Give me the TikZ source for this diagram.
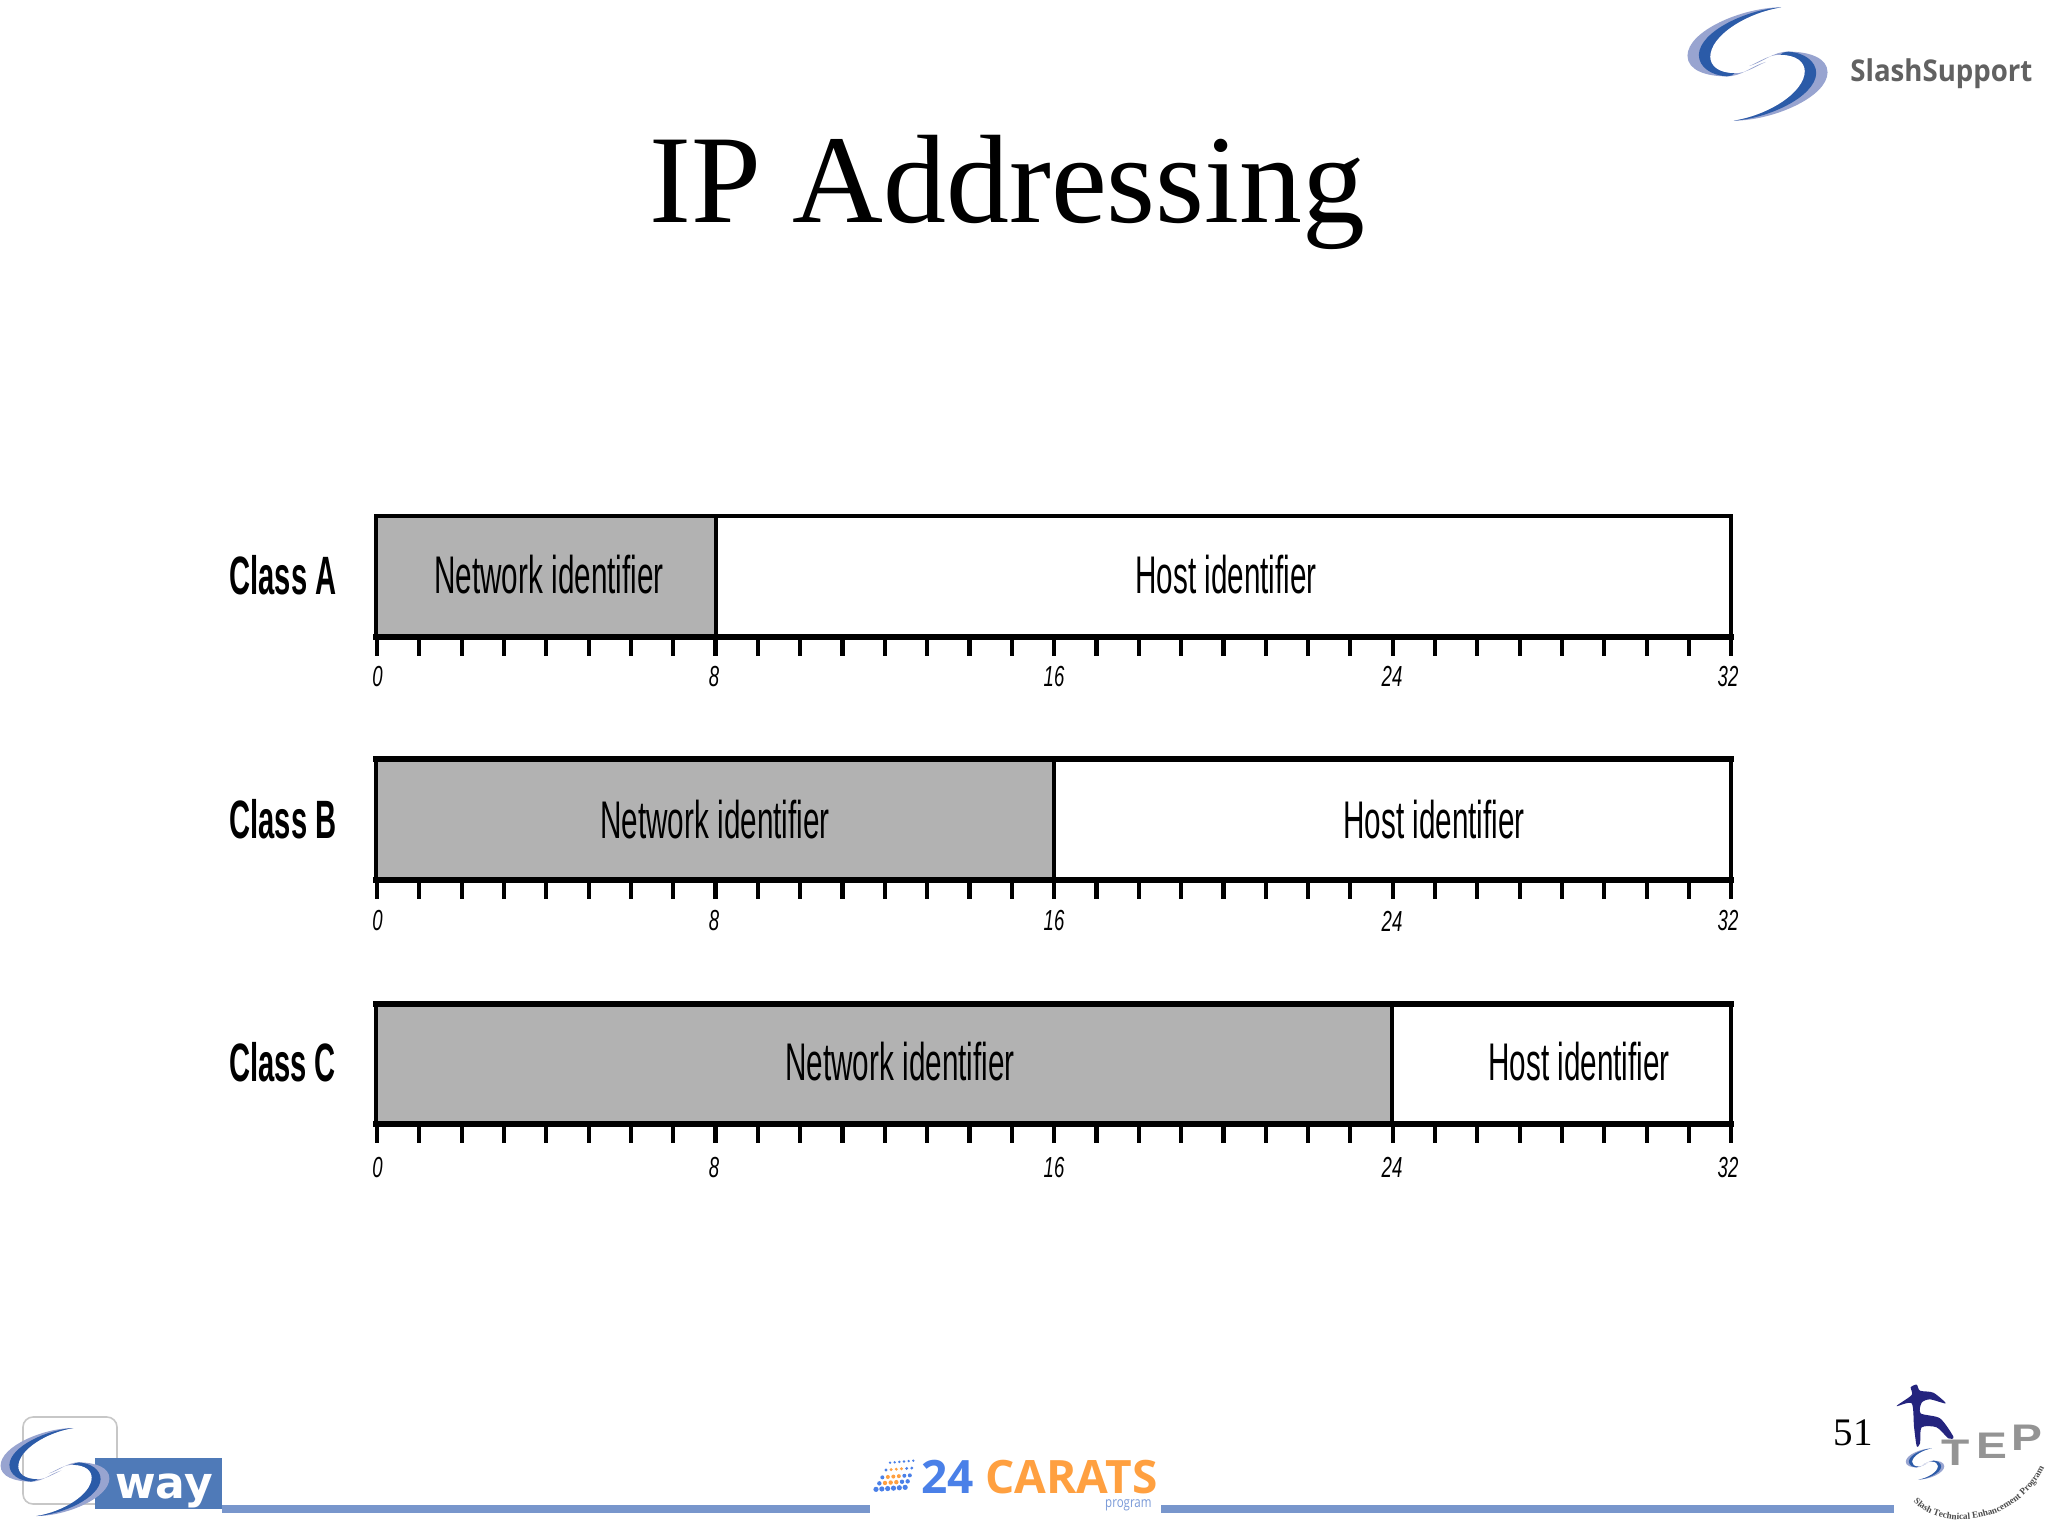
\documentclass[tikz,border=0pt]{standalone}
\usepackage{fontspec}
\usetikzlibrary{decorations.text}
\setmainfont{Liberation Serif}
\newfontfamily\narrowf[FakeStretch=0.56]{Liberation Sans}
\newfontfamily\narrowb[FakeStretch=0.54]{Liberation Sans Bold}
\newfontfamily\narrowi[FakeStretch=0.64]{Liberation Sans Italic}
\newfontfamily\wayf{DejaVu Sans Bold}
\newfontfamily\ssf[FakeStretch=0.92]{Open Sans Bold}
\newfontfamily\oss{Open Sans Bold}
\newfontfamily\tepf[FakeStretch=1.25]{Liberation Sans Bold}
\newfontfamily\progf[FakeStretch=0.8]{Open Sans}
\definecolor{barg}{HTML}{B2B2B2}
\definecolor{swl}{HTML}{98A4D0}
\definecolor{swd}{HTML}{2B5BA8}
\definecolor{foot}{HTML}{7896CC}
\definecolor{waybox}{HTML}{4F7AB8}
\definecolor{cblue}{HTML}{4A80E8}
\definecolor{corange}{HTML}{FFA040}
\definecolor{navy}{HTML}{24247E}
\definecolor{progc}{HTML}{7A9AD8}
\tikzset{
  x=0.5pt,y=-0.5pt,
  fieldlab/.style={font=\narrowf\fontsize{26.5}{30}\selectfont,inner sep=0},
  classlab/.style={font=\narrowb\fontsize{27}{30}\selectfont,inner sep=0},
  bitlab/.style={font=\narrowi\fontsize{14.5}{16}\selectfont,inner sep=0},
  tick/.style={line width=2.1pt},
  tepletter/.style={font=\tepf\fontsize{18.5}{20}\selectfont,text=black!42,anchor=base,inner sep=0},
  pics/swoosh/.style={code={
    \foreach \r in {0,180}{
    \begin{scope}[rotate=\r]
    \fill[swl] (23,-55) .. controls (-15,-55) and (-68,-32) .. (-68,-8) .. controls (-68,6) and (-50,12) .. (-30,12) .. controls (-15,12) and (-8,3) .. (8,-2) .. controls (-5,4) and (-12,9) .. (-22,9) .. controls (-38,9) and (-46,2) .. (-46,-7) .. controls (-46,-28) and (-10,-50) .. (23,-55) -- cycle;
    \fill[swd] (23,-55) .. controls (-10,-53) and (-56,-32) .. (-57,-9) .. controls (-57,3) and (-45,11) .. (-30,12) .. controls (-27,12) and (-24,11) .. (-22,9) .. controls (-38,9) and (-46,2) .. (-46,-7) .. controls (-46,-28) and (-10,-50) .. (23,-55) -- cycle;
    \end{scope}}
  }}
}
\newcommand{\ipbar}[5]{% top, bottom, divider, toplw, botlw
  \fill[barg] (376,#1) rectangle (#3,#2);
  \draw[line width=2.4pt] (376,#1) -- (376,#2) (1731,#1) -- (1731,#2) (#3,#1) -- (#3,#2);
  \draw[line width=#4,line cap=rect] (376,#1) -- (1731,#1);
  \draw[line width=#5,line cap=rect] (376,#2) -- (1731,#2);
  \foreach \k in {0,...,32}{
    \draw[tick] ({377+\k*42.32},#2) -- ++(0,19);
  }
}
\begin{document}
\begin{tikzpicture}
\useasboundingbox (0,0) rectangle (2048,1536);
\fill[white] (0,0) rectangle (2048,1536);

% title
\node[font=\fontsize{62.9}{70}\selectfont,anchor=base,inner sep=0] (title) at (1007.5,222) {IP Addressing};

% bars
\ipbar{516}{637}{716}{1.9pt}{3pt}
\ipbar{759}{880}{1054}{3.4pt}{2.8pt}
\ipbar{1004}{1124}{1392}{3.2pt}{3pt}

\node[classlab] (ca) at (283,575) {Class A};
\node[classlab] (cb) at (283,819) {Class B};
\node[classlab] (cc) at (282.5,1062) {Class C};

\node[fieldlab] (na) at (549,575) {Network identifier};
\node[fieldlab] (nb) at (715,819.5) {Network identifier};
\node[fieldlab] (nc) at (900,1062) {Network identifier};
\node[fieldlab] (ha) at (1226,575) {Host identifier};
\node[fieldlab] (hb) at (1434,819.5) {Host identifier};
\node[fieldlab] (hc) at (1579,1062) {Host identifier};

\foreach \rowy/\rw in {676.5/a,921/b,1167.5/c}{
  \node[bitlab] (b0\rw) at (377.5,\rowy) {0};
  \node[bitlab] (b8\rw) at (714,\rowy) {8};
  \node[bitlab] (b16\rw) at (1054,\rowy) {16};
  \node[bitlab] (b24\rw) at (1392,\rowy) {24};
  \node[bitlab] (b32\rw) at (1728,\rowy) {32};
}

% SlashSupport logo
\pic[scale=1.03] at (1757.5,64) {swoosh};
\node[font=\ssf\fontsize{15}{18}\selectfont,text=black!62,anchor=base west,inner sep=0] (sslogo) at (1850,82) {SlashSupport};

% footer lines
\fill[foot] (222,1505) rectangle (870,1513);
\fill[foot] (1161,1505) rectangle (1894,1513);

% Sway logo
\draw[black!22,line width=0.8pt,rounded corners=5pt] (23,1417) rectangle (117,1504);
\fill[waybox] (95,1458) rectangle (222,1509);
\node[font=\wayf\fontsize{22}{24}\selectfont,text=white,anchor=base,inner sep=0] (way) at (164,1498) {way};
\pic[scale=0.8] at (55,1472) {swoosh};

% 24 CARATS logo
\foreach \r/\yy/\xs/\st/\rad in {0/178/108/17.5/2.6,1/160/118/17/2.2,2/142/127/16.5/2,3/120/138/15.5/1.6,4/98/150/14/1.3}{
  \foreach \c in {0,...,5}{
    \pgfmathsetmacro{\px}{840+(\xs+\c*\st)/3}
    \pgfmathsetmacro{\py}{1430+(\yy-\c*1.2)/3}
    \pgfmathsetmacro{\isor}{(\r>0 && \r<4 && \c>0 && \c<4) ? 1 : 0}
    \ifdim\isor pt>0.5pt
      \fill[corange] (\px,\py) circle[radius=\rad];
    \else
      \fill[cblue] (\px,\py) circle[radius=\rad];
    \fi
  }
}
\node[font=\oss\fontsize{23}{25}\selectfont,text=cblue,anchor=base west,inner sep=0] (n24) at (921,1493) {24};
\node[font=\oss\fontsize{23}{25}\selectfont,text=corange,anchor=base west,inner sep=0] (carats) at (985,1493) {CARATS};
\node[font=\progf\fontsize{7.2}{9}\selectfont,text=progc,anchor=base east,inner sep=0] (prog) at (1152,1507) {program};

% page number
\node[font=\fontsize{19.5}{22}\selectfont,anchor=base,inner sep=0] (pnum) at (1853,1445) {51};

% STEP logo
\pic[scale=0.283] at (1925,1464) {swoosh};
\begin{scope}[shift={(1780,1370)},scale=1/3]
\fill[navy] plot[smooth cycle,tension=0.45] coordinates {(350,108) (395,75) (392,52) (410,44) (420,62) (460,68) (497,100) (450,88) (425,98) (422,130) (480,145) (520,200) (505,205) (470,172) (425,172) (420,220) (410,228) (402,170) (395,100)};
\node[tepletter] (tt) at (528,285) {T};
\node[tepletter] (te) at (635,265) {E};
\node[tepletter] (tp) at (740,240) {P};
\path[decorate,decoration={text along path,text align=center,text={|\fontsize{4.6}{5}\selectfont\bfseries\color{black!70}|Slash Technical Enhancement Program}}] (398,392) .. controls (470,480) and (700,480) .. (795,290);
\end{scope}
\end{tikzpicture}
\end{document}
